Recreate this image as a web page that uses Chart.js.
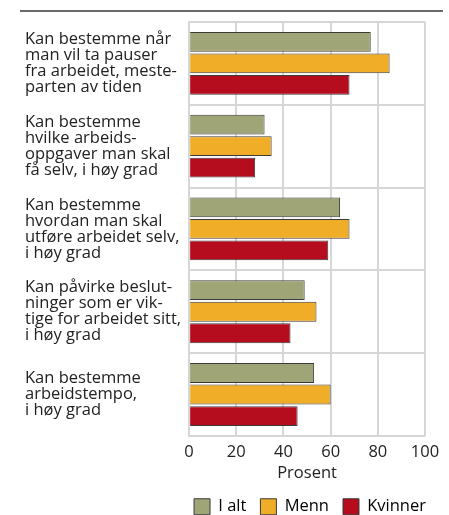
<!DOCTYPE html>
<html><head><meta charset="utf-8">
<script src="https://cdn.jsdelivr.net/npm/chart.js@4/dist/chart.umd.min.js"></script>
<style>html,body{margin:0;padding:0;background:#fff}#wrap{width:449px;height:515px}</style>
</head><body><div id="wrap"><canvas id="c"></canvas></div>
<script>
const categories = [
  ["Kan bestemme når","man vil ta pauser","fra arbeidet, meste-","parten av tiden"],
  ["Kan bestemme","hvilke arbeids-","oppgaver man skal","få selv, i høy grad"],
  ["Kan bestemme","hvordan man skal","utføre arbeidet selv,","i høy grad"],
  ["Kan påvirke beslut-","ninger som er vik-","tige for arbeidet sitt,","i høy grad"],
  ["Kan bestemme","arbeidstempo,","i høy grad"]
];
const seriesNames = ["I alt","Menn","Kvinner"];
const iAlt = [77, 32, 64, 49, 53];
const menn = [85, 35, 68, 54, 60];
const kvinner = [68, 28, 59, 43, 46];
const xTicks = [0, 20, 40, 60, 80, 100];
const colors = ["#a0a577","#f0ae28","#b50d1d"];

const topLine = {
  id:'topLine',
  afterLayout(chart){
    const lg = chart.legend;
    if (lg) { lg.left += 15; lg.right += 15; }
  },
  afterDraw(chart){
    const ctx = chart.ctx;
    ctx.save();
    ctx.strokeStyle = '#6b6b6b';
    ctx.lineWidth = 2;
    ctx.beginPath();
    ctx.moveTo(20, 11);
    ctx.lineTo(443, 11);
    ctx.stroke();
    ctx.restore();
  }
};

const font = "'Open Sans', 'Noto Sans', sans-serif";
new Chart(document.getElementById('c'), {
  type:'bar',
  data:{
    labels: categories,
    datasets: [iAlt, menn, kvinner].map((d,i)=>({
      label: seriesNames[i],
      data: d,
      backgroundColor: colors[i],
      borderColor: '#3a3a3a',
      borderWidth: 1,
      categoryPercentage: 0.78,
      barPercentage: 0.92
    }))
  },
  options:{
    indexAxis:'y',
    responsive:true,
    maintainAspectRatio:false,
    animation:false,
    layout:{padding:{left:25, right:24, top:22, bottom:-10}},
    scales:{
      x:{
        min:0, max:100,
        afterBuildTicks(axis){ axis.ticks = xTicks.map(v=>({value:v})); },
        grid:{color:'#d6d6d6', lineWidth:2, drawTicks:false},
        border:{display:false},
        ticks:{color:'#222', font:{family:font, size:16.5}, padding:6},
        title:{display:true, text:'Prosent', color:'#222', font:{family:font, size:16.5}, padding:{top:-4,bottom:1}}
      },
      y:{
        afterFit(axis){ axis.paddingTop = 0; axis.paddingBottom = 0; },
        grid:{color:'#d6d6d6', lineWidth:2, drawTicks:false},
        border:{display:true, color:'#d6d6d6', width:2},
        ticks:{color:'#222', font:{family:font, size:16.5, lineHeight:0.97}, crossAlign:'far', padding:4}
      }
    },
    plugins:{
      legend:{
        position:'bottom',
        align:'end',
        labels:{color:'#222', font:{family:font, size:16.5}, boxWidth:16, boxHeight:16, padding:14,
          generateLabels(chart){
            return chart.data.datasets.map((ds,i)=>({text:ds.label, fillStyle:ds.backgroundColor, strokeStyle:'#3a3a3a', lineWidth:1, datasetIndex:i, hidden:false}));
          }
        }
      },
      tooltip:{enabled:false}
    }
  },
  plugins:[topLine]
});
</script></body></html>
